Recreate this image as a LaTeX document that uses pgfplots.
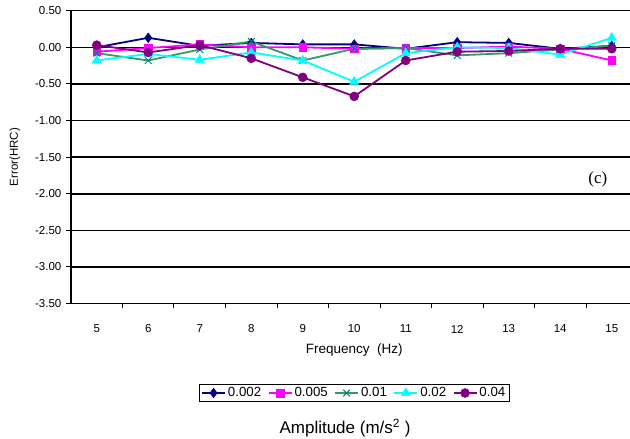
\documentclass[border=0pt]{standalone}
\usepackage{fontspec}
\setmainfont{Liberation Sans}
\newfontfamily\seriffont{Liberation Serif}
\usepackage{pgfplots}
\pgfplotsset{compat=1.18}
\definecolor{cnavy}{RGB}{0,0,128}
\definecolor{cmag}{RGB}{255,0,255}
\definecolor{cgreen}{RGB}{51,153,102}
\definecolor{cteal}{RGB}{0,128,128}
\definecolor{ccyan}{RGB}{0,255,255}
\definecolor{cpurple}{RGB}{128,0,128}
\begin{document}
\begin{tikzpicture}
\useasboundingbox (-71pt,-135.4pt) rectangle (559pt,303.6pt);
\clip (-71pt,-135.4pt) rectangle (559pt,303.6pt);
\begin{axis}[
  scale only axis,
  width=566.5pt, height=292.9pt,
  xmin=4.5, xmax=15.5,
  ymin=-3.5, ymax=0.5,
  axis x line*=bottom, axis y line*=left,
  axis line style={line width=1.6pt, black},
  xtick={5,...,15},
  major x tick style={draw=none},
  minor xtick={5.5,6.5,...,14.5},
  minor x tick style={line width=1pt, black},
  minor tick length=4.5pt,
  ytick={-3.5,-3,...,0.5},
  major y tick style={line width=1pt, black},
  major tick length=5pt,
  tick align=outside,
  ymajorgrids,
  y grid style={line width=1.5pt, black},
  /pgf/number format/assume math mode=true,
  yticklabel={\pgfmathprintnumber[fixed,fixed zerofill,precision=2]{\tick}},
  xticklabel style={font=\fontsize{11.5}{13}\selectfont, anchor=center, yshift=-20.4pt},
  yticklabel style={font=\fontsize{11.5}{13}\selectfont, anchor=east, inner sep=0pt, xshift=-4.5pt},
  xlabel={Frequency\ \ (Hz)},
  ylabel={Error(HRC)},
  every axis x label/.style={at={(axis description cs:0.5,0)}, yshift=-46.4pt, anchor=center, font=\fontsize{13.5}{15}\selectfont},
  every axis y label/.style={at={(axis description cs:0,0.5)}, xshift=-56pt, anchor=center, rotate=90, font=\fontsize{11.5}{13}\selectfont},
  legend columns=5,
  legend style={at={(axis description cs:0.5,0)}, yshift=-89.4pt, anchor=center,
    draw=black, line width=0.8pt, font=\fontsize{13.3}{15}\selectfont,
    inner xsep=2pt, inner ysep=1pt,
    /tikz/every even column/.append style={column sep=4.5pt}},
  legend image code/.code={\draw[#1, mark repeat=2, mark phase=2] plot coordinates {(0pt,0pt) (11.5pt,0pt) (23pt,0pt)};},
  every axis plot/.append style={line width=1.8pt},
]
\addplot[cnavy, mark=diamond*, mark size=4.8pt, mark options={solid, line width=0.5pt}] coordinates {
(5,0.00) (6,0.13) (7,0.02) (8,0.06) (9,0.04) (10,0.04) (11,-0.02) (12,0.07) (13,0.06) (14,-0.02) (15,0.02)};
\addlegendentry{0.002}
\addplot[cmag, mark=square*, mark size=3.8pt, mark options={solid, line width=0.5pt}] coordinates {
(5,-0.06) (6,-0.01) (7,0.04) (8,0.00) (9,0.00) (10,-0.02) (11,-0.01) (12,-0.01) (13,0.01) (14,-0.02) (15,-0.18)};
\addlegendentry{0.005}
\addplot[cgreen, mark=x, mark size=4.8pt, mark options={solid, draw=cteal, line width=1pt}] coordinates {
(5,-0.08) (6,-0.18) (7,-0.03) (8,0.08) (9,-0.18) (10,-0.02) (11,-0.01) (12,-0.11) (13,-0.08) (14,-0.03) (15,0.02)};
\addlegendentry{0.01}
\addplot[ccyan, mark=triangle*, mark size=5.3pt, mark options={solid, line width=0.5pt}] coordinates {
(5,-0.18) (6,-0.09) (7,-0.17) (8,-0.07) (9,-0.18) (10,-0.47) (11,-0.08) (12,0.00) (13,-0.01) (14,-0.10) (15,0.13)};
\addlegendentry{0.02}
\addplot[cpurple, mark=*, mark size=4.5pt, mark options={solid, line width=0.5pt}] coordinates {
(5,0.03) (6,-0.07) (7,0.03) (8,-0.15) (9,-0.41) (10,-0.67) (11,-0.18) (12,-0.06) (13,-0.05) (14,-0.02) (15,-0.02)};
\addlegendentry{0.04}
\node[font=\seriffont\fontsize{17}{19}\selectfont] at (axis cs:14.73,-1.81) {(c)};
\end{axis}
\node[font=\fontsize{17}{19}\selectfont] at (274pt,-124.4pt) {Amplitude (m/s\textsuperscript{2} )};
\end{tikzpicture}
\end{document}
